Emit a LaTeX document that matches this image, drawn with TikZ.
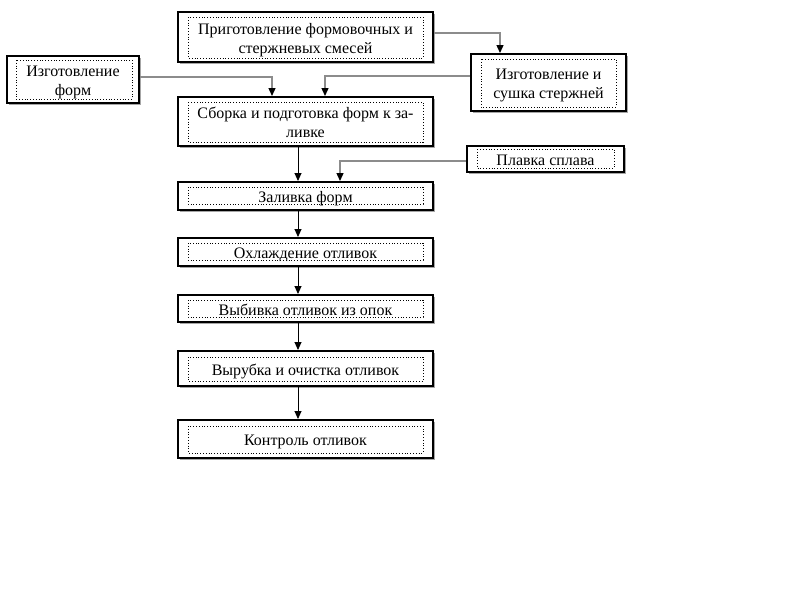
\documentclass[tikz,border=0pt]{standalone}
\usepackage{fontspec}
\setmainfont{Liberation Serif}
\usetikzlibrary{arrows.meta,shadows}
\newcommand\twolines[2]{\begin{tabular}{@{}c@{}}\rule{0pt}{19.5pt}#1\\#2\end{tabular}}
\begin{document}
\begin{tikzpicture}[x=1pt,y=-1pt,
  blk/.style={draw=black,line width=2pt,fill=white,rectangle,inner sep=0pt,
    align=center,font=\fontsize{16}{19}\selectfont,
    execute at begin node={\rule{0pt}{17pt}},
    execute at end node={\rule[-4pt]{0pt}{4pt}},
    drop shadow={shadow xshift=1.5pt,shadow yshift=-1.5pt,fill=gray!70,opacity=1}},
  inbox/.style={draw=black,line width=0.8pt,dotted},
  main/.style={draw=black,line width=0.9pt,-{Triangle[length=8pt,width=7pt]}},
  side/.style={draw=gray!90,line width=1.4pt,-{Triangle[length=8pt,width=7pt,color=black]}}]
\useasboundingbox (0,0) rectangle (800,600);
\node[blk,minimum width=255pt,minimum height=50pt] (top) at (305.5,37) {\twolines{Приготовление формовочных и}{стержневых смесей}};
\node[blk,minimum width=132pt,minimum height=47pt] (lft) at (73,79.5) {\twolines{Изготовление}{форм}};
\node[blk,minimum width=155pt,minimum height=57pt] (rgt) at (548.5,82.5) {\twolines{Изготовление и}{сушка стержней}};
\node[blk,minimum width=255pt,minimum height=49pt] (asm) at (305.5,121.5) {\twolines{Сборка и подготовка форм к за-}{ливке}};
\node[blk,minimum width=157pt,minimum height=26pt] (plv) at (545.5,159) {Плавка сплава};
\node[blk,minimum width=255pt,minimum height=28pt] (zal) at (305.5,196) {Заливка форм};
\node[blk,minimum width=255pt,minimum height=28pt] (okh) at (305.5,252) {Охлаждение отливок};
\node[blk,minimum width=255pt,minimum height=27pt] (vyb) at (305.5,308.5) {Выбивка отливок из опок};
\node[blk,minimum width=255pt,minimum height=35pt] (vyr) at (305.5,368.5) {Вырубка и очистка отливок};
\node[blk,minimum width=255pt,minimum height=38pt] (ktr) at (305.5,439) {Контроль отливок};
% inner dotted frames
\draw[inbox] ([shift={(11pt,-6pt)}]top.north west) rectangle ([shift={(-11pt,5pt)}]top.south east);
\draw[inbox] ([shift={(10pt,-5pt)}]lft.north west) rectangle ([shift={(-8pt,5pt)}]lft.south east);
\draw[inbox] ([shift={(11pt,-6pt)}]rgt.north west) rectangle ([shift={(-11pt,5pt)}]rgt.south east);
\draw[inbox] ([shift={(11pt,-6pt)}]asm.north west) rectangle ([shift={(-11pt,5pt)}]asm.south east);
\draw[inbox] ([shift={(11pt,-4pt)}]plv.north west) rectangle ([shift={(-11pt,5pt)}]plv.south east);
\draw[inbox] ([shift={(11pt,-6pt)}]zal.north west) rectangle ([shift={(-11pt,7pt)}]zal.south east);
\draw[inbox] ([shift={(11pt,-6pt)}]okh.north west) rectangle ([shift={(-11pt,7pt)}]okh.south east);
\draw[inbox] ([shift={(11pt,-6pt)}]vyb.north west) rectangle ([shift={(-11pt,6pt)}]vyb.south east);
\draw[inbox] ([shift={(11pt,-7pt)}]vyr.north west) rectangle ([shift={(-11pt,6pt)}]vyr.south east);
\draw[inbox] ([shift={(11pt,-7pt)}]ktr.north west) rectangle ([shift={(-11pt,6pt)}]ktr.south east);
% connectors
\draw[side] ([yshift=4pt]top.east) -| ([xshift=-48.5pt]rgt.north);
\draw[side] ([yshift=2.5pt]lft.east) -| ([xshift=-33.5pt]asm.north);
\draw[side] ([yshift=6.5pt]rgt.west) -| ([xshift=19.5pt]asm.north);
\draw[side] ([yshift=-2pt]plv.west) -| ([xshift=34.5pt]zal.north);
\draw[main] ([xshift=-7.5pt]asm.south) -- ([xshift=-7.5pt]zal.north);
\draw[main] ([xshift=-7.5pt]zal.south) -- ([xshift=-7.5pt]okh.north);
\draw[main] ([xshift=-7.5pt]okh.south) -- ([xshift=-7.5pt]vyb.north);
\draw[main] ([xshift=-7.5pt]vyb.south) -- ([xshift=-7.5pt]vyr.north);
\draw[main] ([xshift=-7.5pt]vyr.south) -- ([xshift=-7.5pt]ktr.north);
\end{tikzpicture}
\end{document}
